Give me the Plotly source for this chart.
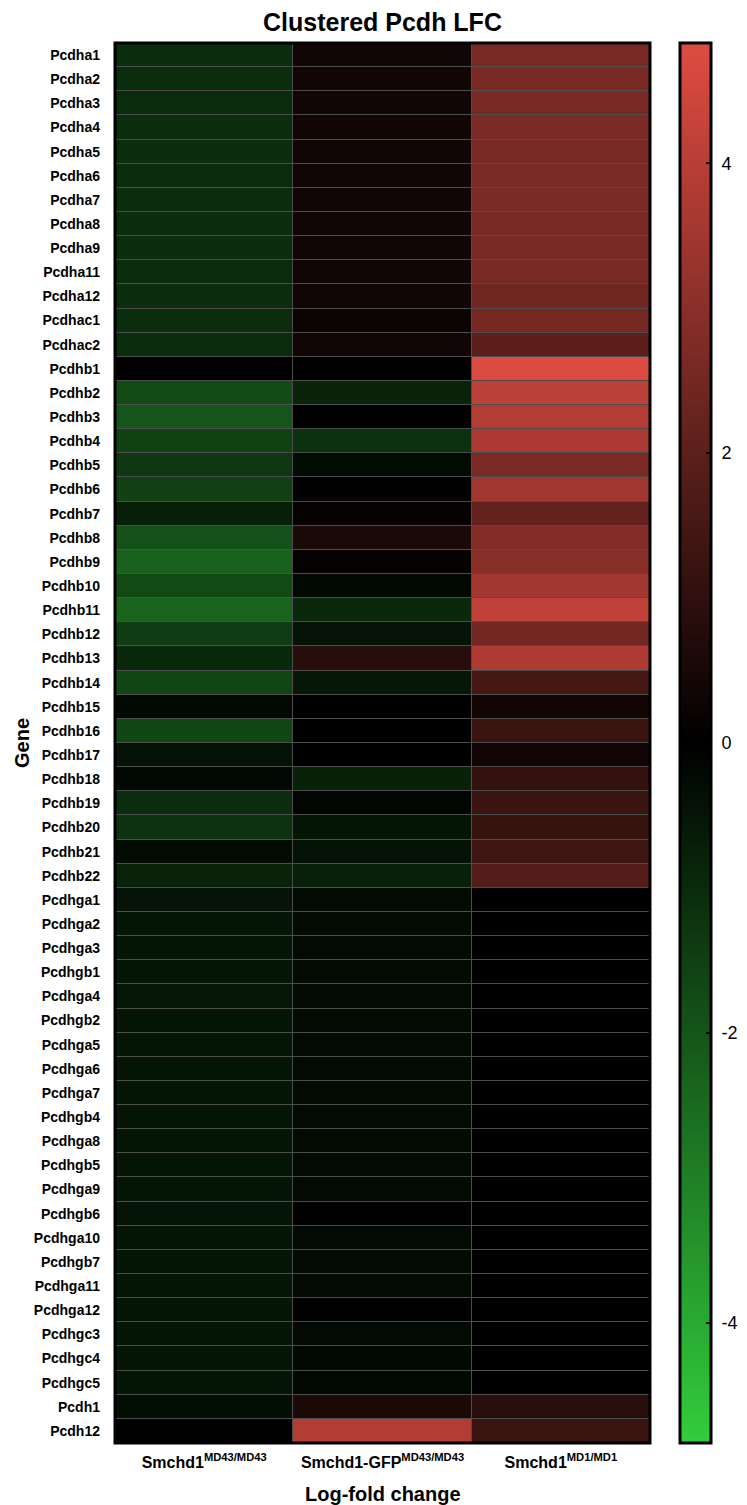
import plotly.graph_objects as go

genes = ["Pcdha1", "Pcdha2", "Pcdha3", "Pcdha4", "Pcdha5", "Pcdha6", "Pcdha7", "Pcdha8",
         "Pcdha9", "Pcdha11", "Pcdha12", "Pcdhac1", "Pcdhac2",
         "Pcdhb1", "Pcdhb2", "Pcdhb3", "Pcdhb4", "Pcdhb5", "Pcdhb6", "Pcdhb7", "Pcdhb8",
         "Pcdhb9", "Pcdhb10", "Pcdhb11", "Pcdhb12", "Pcdhb13", "Pcdhb14", "Pcdhb15",
         "Pcdhb16", "Pcdhb17", "Pcdhb18", "Pcdhb19", "Pcdhb20", "Pcdhb21", "Pcdhb22",
         "Pcdhga1", "Pcdhga2", "Pcdhga3", "Pcdhgb1", "Pcdhga4", "Pcdhgb2", "Pcdhga5",
         "Pcdhga6", "Pcdhga7", "Pcdhgb4", "Pcdhga8", "Pcdhgb5", "Pcdhga9", "Pcdhgb6",
         "Pcdhga10", "Pcdhgb7", "Pcdhga11", "Pcdhga12", "Pcdhgc3", "Pcdhgc4", "Pcdhgc5",
         "Pcdh1", "Pcdh12"]

samples = ["Smchd1<sup>MD43/MD43</sup>", "Smchd1-GFP<sup>MD43/MD43</sup>", "Smchd1<sup>MD1/MD1</sup>"]

lfc_md43 = [-1.04, -1.04, -1.02, -1.06, -1.04, -1.02, -1.04, -1.06, -1.04, -1.02, -1.04, -1.04, -1.02,
            -0.03, -1.77, -2.0, -1.53, -1.3, -1.5, -0.71, -1.9, -2.3, -1.75, -2.36, -1.42, -0.94,
            -1.65, -0.19, -1.68, -0.45, -0.2, -1.06, -1.18, -0.28, -0.83,
            -0.47, -0.5, -0.52, -0.5, -0.55, -0.5, -0.52, -0.5, -0.52, -0.5, -0.52, -0.5, -0.5,
            -0.48, -0.5, -0.5, -0.52, -0.5, -0.52, -0.5, -0.5,
            -0.35, -0.02]

lfc_gfp_md43 = [0.38, 0.38, 0.38, 0.4, 0.38, 0.38, 0.38, 0.38, 0.36, 0.38, 0.36, 0.25, 0.36,
                0.0, -0.83, 0.0, -1.15, -0.28, -0.05, 0.15, 0.62, 0.1, -0.19, -0.94, -0.47, 0.85,
                -0.55, 0.02, 0.0, 0.02, -0.8, -0.15, -0.5, -0.4, -0.75,
                -0.24, -0.26, -0.24, -0.25, -0.24, -0.26, -0.24, -0.24, -0.25, -0.24, -0.25, -0.24,
                -0.24, -0.02, -0.24, -0.24, -0.24, -0.02, -0.24, -0.22, -0.22,
                0.62, 3.85]

lfc_md1 = [2.61, 2.61, 2.61, 2.7, 2.61, 2.7, 2.7, 2.61, 2.61, 2.61, 2.43, 2.56, 2.0,
           4.78, 4.1, 3.9, 3.7, 2.7, 3.5, 2.15, 2.85, 2.93, 3.5, 4.15, 2.5, 3.8,
           1.5, 0.42, 1.25, 0.38, 1.08, 1.25, 1.2, 1.35, 1.85,
           0.02, 0.02, 0.01, 0.01, 0.02, 0.01, 0.01, 0.01, 0.01, 0.01, 0.01, 0.01, 0.01,
           0.01, 0.01, 0.01, 0.01, 0.01, 0.01, 0.01, 0.01,
           0.87, 1.26]

colorbar_ticks = [-4, -2, 0, 2, 4]

z = [[a, b, c] for a, b, c in zip(lfc_md43, lfc_gfp_md43, lfc_md1)]

FONT = "Liberation Sans, Arial, sans-serif"
W, H = 747, 1505
ML, MT = 115, 43
PW, PH = 535, 1400
MR = W - ML - PW
MB = H - MT - PH

NB = "\u00a0"

fig = go.Figure(go.Heatmap(
    z=z, x=samples, y=genes,
    zmin=-4.83, zmax=4.83,
    colorscale=[[0.0, "rgb(50,205,60)"], [0.5, "rgb(0,0,0)"], [1.0, "rgb(222,76,66)"]],
    xgap=1, ygap=1,
    colorbar=dict(
        x=(680 - ML) / PW, xanchor="left", xpad=0,
        y=0.5, yanchor="middle", len=1, lenmode="fraction", ypad=0,
        thickness=31, outlinewidth=3, outlinecolor="black",
        tickvals=colorbar_ticks, ticktext=[NB + str(t) for t in colorbar_ticks],
        ticks="inside", ticklen=6, tickwidth=2, tickcolor="black",
        tickfont=dict(family=FONT, size=18, color="black"),
    ),
))

fig.update_layout(
    width=W, height=H,
    margin=dict(l=ML, r=MR, t=MT, b=MB, autoexpand=False),
    paper_bgcolor="white", plot_bgcolor="#4d4d4d",
    title=dict(text="<b>Clustered Pcdh LFC</b>", x=0.5, xref="paper", xanchor="center",
               y=1 - 22 / H, yref="container", yanchor="middle",
               font=dict(family=FONT, size=25, color="black")),
    xaxis=dict(showgrid=False, zeroline=False, ticks="", ticklabelstandoff=8,
               automargin=False,
               tickfont=dict(family=FONT, size=16, color="black", weight="bold")),
    yaxis=dict(showgrid=False, zeroline=False, ticks="", autorange="reversed",
               ticklabelstandoff=14, automargin=False,
               tickfont=dict(family=FONT, size=14, color="black", weight="bold")),
    annotations=[
        dict(text="<b>Gene</b>", xref="paper", yref="paper", x=(22 - ML) / PW, y=0.5,
             xanchor="center", yanchor="middle", textangle=-90, showarrow=False,
             font=dict(family=FONT, size=20, color="black")),
        dict(text="<b>Log-fold change</b>", xref="paper", yref="paper", x=0.5,
             y=-(1494 - (MT + PH)) / PH, xanchor="center", yanchor="middle",
             showarrow=False, font=dict(family=FONT, size=20, color="black")),
    ],
    shapes=[dict(type="rect", xref="paper", yref="paper", x0=0, y0=0, x1=1, y1=1,
                 line=dict(color="black", width=3), fillcolor="rgba(0,0,0,0)")],
)

fig.write_html("out.html", config={"displayModeBar": False},
               post_script="document.body.style.margin='0';document.body.style.overflow='hidden';")
